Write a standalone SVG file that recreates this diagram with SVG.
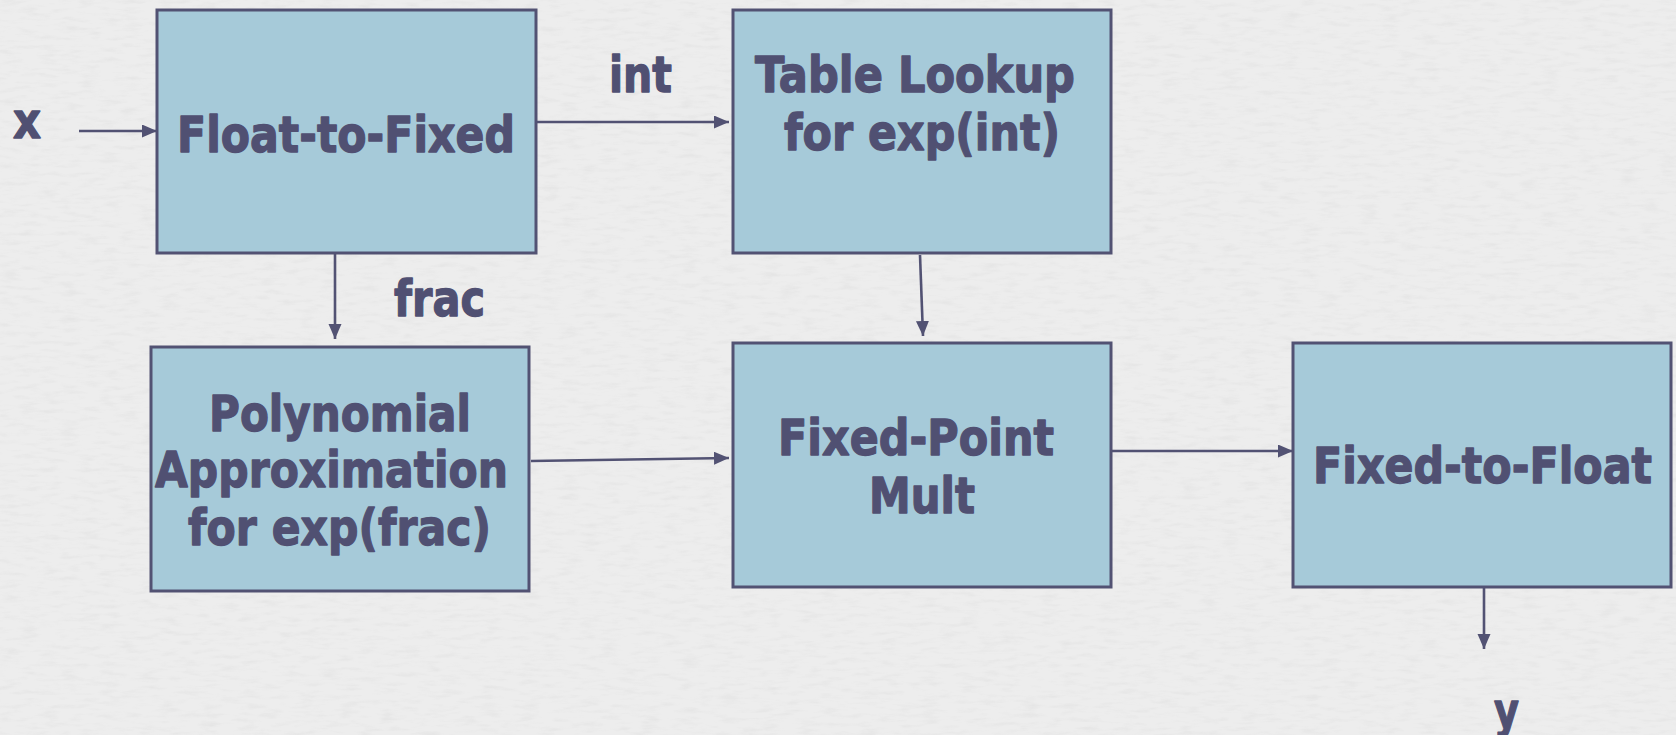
<svg xmlns="http://www.w3.org/2000/svg" width="1676" height="735" viewBox="0 0 1676 735">
  <defs>
    <style>
      .box { fill: #a6cad9; stroke: #525273; stroke-width: 3; }
      .lbl { font-family: "DejaVu Sans", "Liberation Sans", sans-serif; font-weight: bold; font-size: 49px; fill: #505072; stroke: #505072; stroke-width: 1.3; stroke-linejoin: round; }
      .conn { stroke: #525273; stroke-width: 2.6; fill: none; marker-end: url(#arr); }
    </style>
    <marker id="arr" markerUnits="userSpaceOnUse" markerWidth="16" markerHeight="14" refX="15" refY="6.5" orient="auto">
      <path d="M0,0 L15,6.5 L0,13 z" fill="#525273"/>
    </marker>
    <filter id="paper" x="0" y="0" width="100%" height="100%">
      <feTurbulence type="fractalNoise" baseFrequency="0.05 0.22" numOctaves="3" seed="4" result="n"/>
      <feColorMatrix type="matrix" values="0 0 0 0 0.55  0 0 0 0 0.55  0 0 0 0 0.55  0 0 0 -1.6 0.85" in="n"/>
    </filter>
  </defs>
  <rect x="0" y="0" width="1676" height="735" fill="#ededed"/>
  <rect x="0" y="0" width="1676" height="735" filter="url(#paper)" opacity="0.25"/>

  <g id="connectors">
    <line class="conn" x1="79" y1="131" x2="157" y2="131"/>
    <line class="conn" x1="536" y1="122" x2="729" y2="122"/>
    <line class="conn" x1="335" y1="253" x2="335" y2="339"/>
    <line class="conn" x1="920" y1="255" x2="923" y2="336"/>
    <line class="conn" x1="531" y1="461" x2="729" y2="458"/>
    <line class="conn" x1="1111" y1="451" x2="1293" y2="451"/>
    <line class="conn" x1="1484" y1="587" x2="1484" y2="649"/>
  </g>

  <g id="labels">
    <text class="lbl" x="13" y="138" textLength="28" lengthAdjust="spacingAndGlyphs">x</text>
    <text class="lbl" x="609" y="92" textLength="63" lengthAdjust="spacingAndGlyphs">int</text>
    <text class="lbl" x="394" y="316" textLength="91" lengthAdjust="spacingAndGlyphs">frac</text>
    <text class="lbl" x="1494" y="728" textLength="25" lengthAdjust="spacingAndGlyphs">y</text>
  </g>

  <g id="float-to-fixed">
    <rect class="box" x="157" y="10" width="379" height="243"/>
    <text class="lbl" x="177" y="152" textLength="338" lengthAdjust="spacingAndGlyphs">Float-to-Fixed</text>
  </g>

  <g id="table-lookup">
    <rect class="box" x="733" y="10" width="378" height="243"/>
    <text class="lbl" x="755" y="92" textLength="320" lengthAdjust="spacingAndGlyphs">Table Lookup</text>
    <text class="lbl" x="784" y="150" textLength="276" lengthAdjust="spacingAndGlyphs">for exp(int)</text>
  </g>

  <g id="polynomial">
    <rect class="box" x="151" y="347" width="378" height="244"/>
    <text class="lbl" x="209" y="431" textLength="262" lengthAdjust="spacingAndGlyphs">Polynomial</text>
    <text class="lbl" x="155" y="487" textLength="353" lengthAdjust="spacingAndGlyphs">Approximation</text>
    <text class="lbl" x="188" y="545" textLength="303" lengthAdjust="spacingAndGlyphs">for exp(frac)</text>
  </g>

  <g id="fixed-point-mult">
    <rect class="box" x="733" y="343" width="378" height="244"/>
    <text class="lbl" x="778" y="455" textLength="276" lengthAdjust="spacingAndGlyphs">Fixed-Point</text>
    <text class="lbl" x="869" y="513" textLength="106" lengthAdjust="spacingAndGlyphs">Mult</text>
  </g>

  <g id="fixed-to-float">
    <rect class="box" x="1293" y="343" width="378" height="244"/>
    <text class="lbl" x="1313" y="483" textLength="339" lengthAdjust="spacingAndGlyphs">Fixed-to-Float</text>
  </g>
</svg>
